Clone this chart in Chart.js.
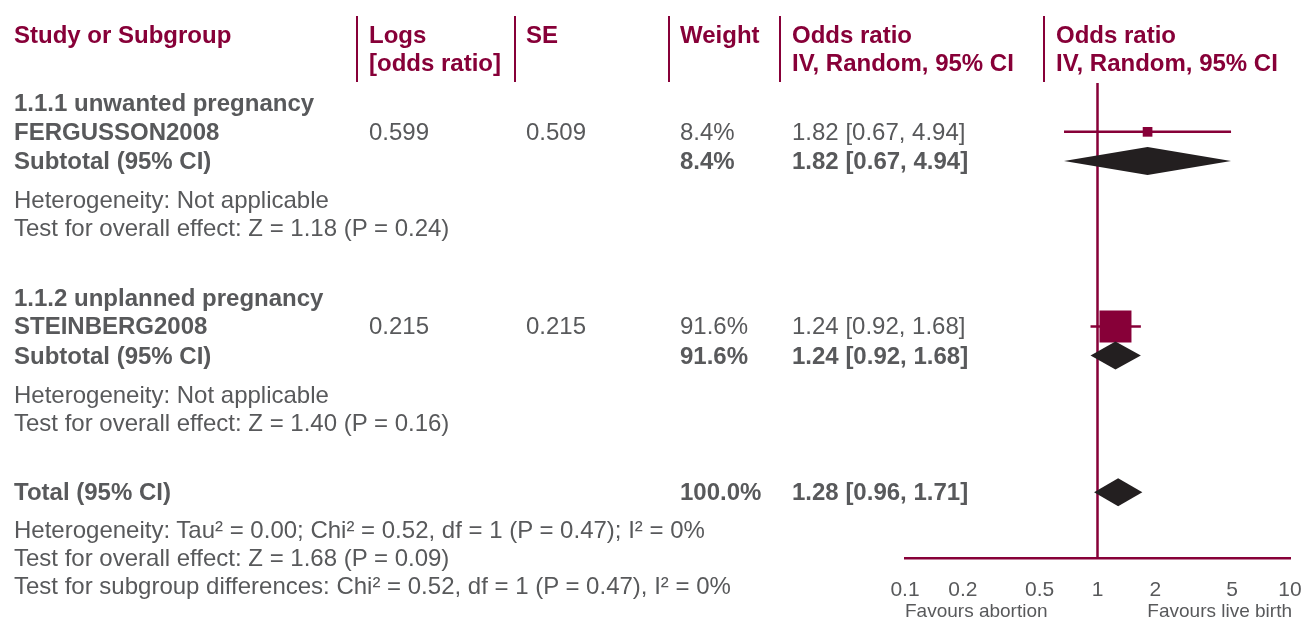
<!DOCTYPE html>
<html>
<head>
<meta charset="utf-8">
<script src="https://cdn.jsdelivr.net/npm/chart.js@4.4.1/dist/chart.umd.min.js"></script>
<style>
  html, body { margin: 0; padding: 0; background: #fff; }
  #wrap { position: relative; width: 1306px; height: 622px; overflow: hidden; font-family: 'Liberation Sans', Arial, sans-serif; }
  #plot { position: absolute; left: 0; top: 0; }
  .t { position: absolute; font-size: 24px; line-height: 28px; white-space: nowrap; color: #58595b; }
  .b { font-weight: bold; }
  .h { color: #870038; font-weight: bold; }
  .sep { position: absolute; width: 2px; background: #870038; }
  .fav { position: absolute; font-size: 19px; line-height: 20px; color: #58595b; white-space: nowrap; }
</style>
</head>
<body>
<div id="wrap">
  <canvas id="plot" width="1306" height="622"></canvas>
</div>
<script>
const MAROON = '#870038';
const GREY = '#58595b';
const INK = '#231f20';

// ---- data ----
const studyNames = ['FERGUSSON2008', 'STEINBERG2008'];
const studyLogOR = ['0.599', '0.215'];
const studySE = ['0.509', '0.215'];
const studyWeight = [8.4, 91.6];
const studyOR = [1.82, 1.24];
const studyLo = [0.67, 0.92];
const studyHi = [4.94, 1.68];

const groupNames = ['1.1.1 unwanted pregnancy', '1.1.2 unplanned pregnancy'];
const groupWeight = [8.4, 91.6];
const groupOR = [1.82, 1.24];
const groupLo = [0.67, 0.92];
const groupHi = [4.94, 1.68];
const groupHet = ['Heterogeneity: Not applicable', 'Heterogeneity: Not applicable'];
const groupTest = ['Test for overall effect: Z = 1.18 (P = 0.24)', 'Test for overall effect: Z = 1.40 (P = 0.16)'];

const totalWeight = 100.0;
const totalOR = 1.28, totalLo = 0.96, totalHi = 1.71;
const totalNotes = [
    'Heterogeneity: Tau² = 0.00; Chi² = 0.52, df = 1 (P = 0.47); I² = 0%',
    'Test for overall effect: Z = 1.68 (P = 0.09)',
    'Test for subgroup differences: Chi² = 0.52, df = 1 (P = 0.47), I² = 0%',
];

const headers = [
    ['Study or Subgroup'],
    ['Logs', '[odds ratio]'],
    ['SE'],
    ['Weight'],
    ['Odds ratio', 'IV, Random, 95% CI'],
    ['Odds ratio', 'IV, Random, 95% CI'],
];
const tickValues = [0.1, 0.2, 0.5, 1, 2, 5, 10];
const tickLabels = ['0.1', '0.2', '0.5', '1', '2', '5', '10'];
const favours = ['Favours abortion', 'Favours live birth'];

// ---- layout ----
const colX = [14, 369, 526, 680, 792, 1056];
const sepX = [357, 515, 669, 780, 1044];
const ROW0 = 103, PITCH = 28;          // centre of slot 0, px per slot
const groupSlot = [0, 6.95];
const totalSlot = 13.9;
const area = { left: 905, right: 1290, top: 83, bottom: 558 };
const AXIS_H = 64;
const slotY = s => ROW0 + s * PITCH;
const yMin = (area.top - ROW0) / PITCH;
const yMax = (area.bottom - ROW0) / PITCH;

const pct = w => w.toFixed(1) + '%';
const ci = (v, lo, hi) => `${v.toFixed(2)} [${lo.toFixed(2)}, ${hi.toFixed(2)}]`;

const wrap = document.getElementById('wrap');

function text(str, x, yc, cls) {
    const d = document.createElement('div');
    d.className = 't ' + (cls || '');
    d.textContent = str;
    d.style.left = x + 'px';
    d.style.top = (yc - 14) + 'px';
    wrap.appendChild(d);
}

// header
headers.forEach((lines, c) => {
    lines.forEach((s, k) => text(s, colX[c], 35 + k * 28, 'h'));
});
sepX.forEach(x => {
    const d = document.createElement('div');
    d.className = 'sep';
    d.style.left = (x - 1) + 'px';
    d.style.top = '16px';
    d.style.height = '66px';
    wrap.appendChild(d);
});

// subgroups
const studyRow = i => groupSlot[i] + 1.03;
const subRow = i => groupSlot[i] + 2.07;

groupNames.forEach((g, i) => {
    const s = groupSlot[i];
    text(g, colX[0], slotY(s), 'b');
    text(studyNames[i], colX[0], slotY(studyRow(i)), 'b');
    text(studyLogOR[i], colX[1], slotY(studyRow(i)));
    text(studySE[i], colX[2], slotY(studyRow(i)));
    text(pct(studyWeight[i]), colX[3], slotY(studyRow(i)));
    text(ci(studyOR[i], studyLo[i], studyHi[i]), colX[4], slotY(studyRow(i)));
    text('Subtotal (95% CI)', colX[0], slotY(subRow(i)), 'b');
    text(pct(groupWeight[i]), colX[3], slotY(subRow(i)), 'b');
    text(ci(groupOR[i], groupLo[i], groupHi[i]), colX[4], slotY(subRow(i)), 'b');
    text(groupHet[i], colX[0], slotY(s + 3.47));
    text(groupTest[i], colX[0], slotY(s + 4.47));
});

// total
text('Total (95% CI)', colX[0], slotY(totalSlot), 'b');
text(pct(totalWeight), colX[3], slotY(totalSlot), 'b');
text(ci(totalOR, totalLo, totalHi), colX[4], slotY(totalSlot), 'b');
totalNotes.forEach((s, k) => text(s, colX[0], slotY(totalSlot + 1.35 + k)));

// favours labels
favours.forEach((s, k) => {
    const d = document.createElement('div');
    d.className = 'fav';
    d.textContent = s;
    d.style.top = '601px';
    if (k === 0) d.style.left = area.left + 'px';
    else d.style.right = (1306 - 1292) + 'px';
    wrap.appendChild(d);
});

// ---- chart ----
const squareSide = w => 3.34 * Math.sqrt(w);

const datasets = [{
    type: 'line',
    data: [{ x: 1, y: yMin }, { x: 1, y: yMax }],
    borderColor: MAROON,
    borderWidth: 2.5,
    pointRadius: 0,
}];
studyOR.forEach((v, i) => {
    datasets.push({
        type: 'line',
        data: [{ x: studyLo[i], y: studyRow(i) }, { x: studyHi[i], y: studyRow(i) }],
        borderColor: MAROON,
        borderWidth: 2.5,
        pointRadius: 0,
    });
});
datasets.push({
    type: 'scatter',
    data: studyOR.map((v, i) => ({ x: v, y: studyRow(i) })),
    pointStyle: 'rect',
    pointRadius: studyWeight.map(w => squareSide(w) / Math.SQRT2),
    backgroundColor: MAROON,
    borderWidth: 0,
});

const diamonds = {
    id: 'diamonds',
    afterDatasetsDraw(chart) {
        const { ctx, scales: { x, y } } = chart;
        const items = groupOR.map((v, i) => ({ est: v, lo: groupLo[i], hi: groupHi[i], row: subRow(i) }));
        items.push({ est: totalOR, lo: totalLo, hi: totalHi, row: totalSlot });
        ctx.save();
        ctx.fillStyle = INK;
        items.forEach(d => {
            ctx.beginPath();
            ctx.moveTo(x.getPixelForValue(d.lo), y.getPixelForValue(d.row));
            ctx.lineTo(x.getPixelForValue(d.est), y.getPixelForValue(d.row - 0.5));
            ctx.lineTo(x.getPixelForValue(d.hi), y.getPixelForValue(d.row));
            ctx.lineTo(x.getPixelForValue(d.est), y.getPixelForValue(d.row + 0.5));
            ctx.closePath();
            ctx.fill();
        });
        ctx.restore();
    },
};

new Chart(document.getElementById('plot').getContext('2d'), {
    type: 'scatter',
    data: { datasets },
    options: {
        responsive: false,
        animation: false,
        events: [],
        layout: {
            autoPadding: false,
            padding: { left: area.left, right: 1306 - area.right, top: area.top, bottom: 622 - area.bottom - AXIS_H },
        },
        plugins: { legend: { display: false }, tooltip: { enabled: false } },
        scales: {
            x: {
                type: 'logarithmic',
                min: 0.1,
                max: 10,
                afterBuildTicks: s => { s.ticks = tickValues.map(v => ({ value: v })); },
                afterFit: s => {
                    s.height = AXIS_H;
                    s.paddingLeft = 0;
                    s.paddingRight = 0;
                },
                grid: { display: false },
                border: { color: MAROON, width: 2.5 },
                ticks: {
                    autoSkip: false,
                    maxRotation: 0,
                    padding: 12,
                    color: GREY,
                    font: { family: "'Liberation Sans', Arial, sans-serif", size: 21 },
                    callback: (v, i) => tickLabels[i],
                },
            },
            y: { type: 'linear', reverse: true, min: yMin, max: yMax, display: false },
        },
    },
    plugins: [diamonds],
});
</script>
</body>
</html>
